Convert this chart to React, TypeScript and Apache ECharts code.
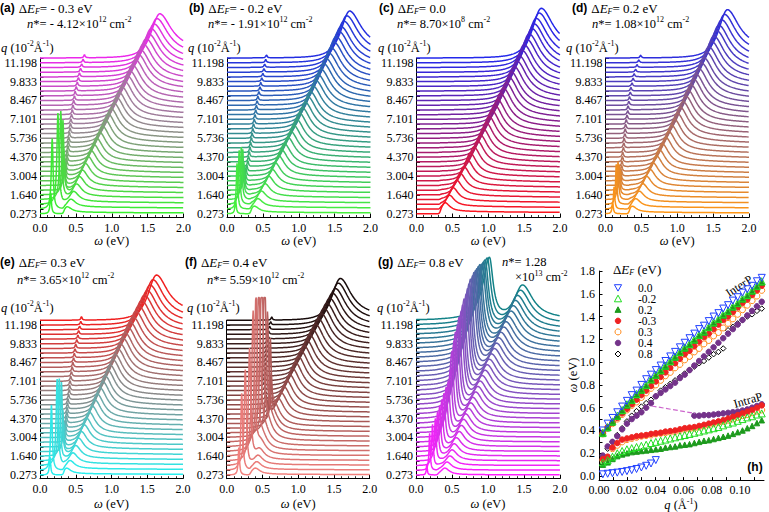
import React, { useEffect, useRef } from "react";
import * as echarts from "echarts";

const N = null;

// q values of the stacked curves (10^-2 Å^-1)
const qLines = [0.273, 0.614, 0.956, 1.297, 1.640, 1.980, 2.321, 2.663, 3.004, 3.346, 3.687, 4.028, 4.370, 4.711, 5.053, 5.394, 5.736, 6.077, 6.418, 6.760, 7.101, 7.443, 7.784, 8.125, 8.467, 8.808, 9.150, 9.491, 9.833, 10.174, 10.515, 10.857, 11.198, 11.540];
const qTickLabels = [0.273, 1.64, 3.004, 4.37, 5.736, 7.101, 8.467, 9.833, 11.198];

// panel (h) ticks
const hXLabels = [0, 0.02, 0.04, 0.06, 0.08, 0.1];
const hXTicks = [0, 0.01, 0.02, 0.03, 0.04, 0.05, 0.06, 0.07, 0.08, 0.09, 0.1, 0.11];
const hYLabels = [0, 0.2, 0.4, 0.6, 0.8, 1.0, 1.2, 1.4, 1.6, 1.8];
const hYTicks = [0, 0.1, 0.2, 0.3, 0.4, 0.5, 0.6, 0.7, 0.8, 0.9, 1.0, 1.1, 1.2, 1.3, 1.4, 1.5, 1.6, 1.7, 1.8];

// peak positions omega (eV), per doping, per q line
const interP_00 = [0.40, 0.46, 0.51, 0.56, 0.61, 0.66, 0.71, 0.75, 0.80, 0.85, 0.89, 0.93, 0.97, 1.01, 1.05, 1.09, 1.13, 1.17, 1.21, 1.25, 1.29, 1.32, 1.36, 1.40, 1.43, 1.47, 1.50, 1.54, 1.57, 1.61, 1.64, 1.67, 1.71, 1.74];
const intraP_00 = [0.015, 0.02, 0.025, 0.03, 0.036, 0.043, 0.052, 0.062, 0.075, 0.09, 0.11, 0.14, N, N, N, N, N, N, N, N, N, N, N, N, N, N, N, N, N, N, N, N, N, N];
const interP_m02 = [0.38, 0.43, 0.48, 0.53, 0.58, 0.63, 0.67, 0.72, 0.76, 0.80, 0.85, 0.89, 0.93, 0.97, 1.01, 1.05, 1.09, 1.13, 1.16, 1.20, 1.24, 1.27, 1.31, 1.35, 1.38, 1.42, 1.45, 1.49, 1.52, 1.56, 1.59, 1.63, 1.67, 1.71];
const intraP_m02 = [0.12, 0.14, 0.17, 0.20, 0.22, 0.235, 0.245, 0.255, 0.265, 0.275, 0.29, 0.30, 0.31, 0.32, 0.33, 0.34, 0.35, 0.36, 0.37, 0.38, 0.39, 0.40, 0.41, 0.42, 0.43, 0.445, 0.46, 0.47, 0.485, 0.50, 0.515, 0.525, 0.54, 0.55];
const interP_p02 = [0.37, 0.42, 0.47, 0.52, 0.57, 0.62, 0.66, 0.71, 0.75, 0.79, 0.84, 0.88, 0.92, 0.96, 1.00, 1.04, 1.08, 1.12, 1.15, 1.19, 1.23, 1.26, 1.30, 1.34, 1.37, 1.41, 1.44, 1.48, 1.51, 1.55, 1.58, 1.62, 1.66, 1.70];
const intraP_p02 = [0.10, 0.12, 0.15, 0.175, 0.19, 0.20, 0.21, 0.215, 0.22, 0.225, 0.23, 0.235, 0.24, 0.25, 0.255, 0.26, 0.27, 0.275, 0.28, 0.29, 0.30, 0.31, 0.315, 0.325, 0.335, 0.345, 0.355, 0.37, 0.385, 0.40, 0.42, 0.44, 0.465, 0.49];
const interP_m03 = [0.38, 0.43, 0.47, 0.51, 0.55, 0.59, 0.63, 0.67, 0.71, 0.75, 0.79, 0.83, 0.87, 0.91, 0.95, 0.99, 1.03, 1.07, 1.10, 1.14, 1.18, 1.22, 1.25, 1.29, 1.33, 1.37, 1.40, 1.44, 1.48, 1.52, 1.55, 1.59, 1.63, 1.67];
const intraP_m03 = [0.15, 0.17, 0.25, 0.29, 0.32, 0.33, 0.34, 0.35, 0.355, 0.36, 0.37, 0.375, 0.38, 0.39, 0.395, 0.40, 0.41, 0.42, 0.425, 0.43, 0.44, 0.45, 0.46, 0.47, 0.48, 0.49, 0.505, 0.52, 0.535, 0.55, 0.565, 0.58, 0.60, 0.62];
const interP_p03 = [0.37, 0.42, 0.46, 0.50, 0.54, 0.58, 0.62, 0.65, 0.69, 0.73, 0.77, 0.80, 0.84, 0.88, 0.91, 0.95, 0.98, 1.02, 1.05, 1.09, 1.12, 1.16, 1.19, 1.23, 1.26, 1.30, 1.34, 1.38, 1.42, 1.46, 1.50, 1.54, 1.58, 1.63];
const intraP_p03 = [0.14, 0.16, 0.24, 0.27, 0.30, 0.32, 0.33, 0.34, 0.35, 0.355, 0.36, 0.37, 0.375, 0.38, 0.385, 0.39, 0.40, 0.41, 0.415, 0.42, 0.43, 0.44, 0.45, 0.46, 0.47, 0.48, 0.49, 0.50, 0.515, 0.53, 0.54, 0.555, 0.57, 0.58];
const interP_p04 = [N, N, N, N, N, N, N, N, N, N, N, 0.70, 0.73, 0.76, 0.79, 0.82, 0.86, 0.89, 0.93, 0.97, 1.01, 1.05, 1.09, 1.13, 1.17, 1.21, 1.25, 1.29, 1.33, 1.37, 1.41, 1.45, 1.49, 1.53];
const intraP_p04 = [0.18, 0.26, 0.30, 0.35, 0.41, 0.46, 0.50, 0.53, 0.56, 0.60, 0.64, N, N, N, N, N, N, N, N, 0.53, 0.53, 0.535, 0.535, 0.54, 0.545, 0.55, 0.555, 0.56, 0.565, 0.575, 0.585, 0.60, 0.615, 0.63];
const peakP_p08 = [0.17, 0.24, 0.30, 0.36, 0.42, 0.48, 0.53, 0.57, 0.61, 0.64, 0.67, 0.70, 0.75, 0.78, 0.81, 0.84, 0.87, 0.90, 0.93, 0.96, 0.99, 1.01, 1.04, 1.07, 1.09, 1.12, 1.28, 1.31, 1.34, 1.37, 1.40, 1.42, 1.45, 1.47];
const dashedLink = [[0.0374, 0.615], [0.068, 0.55]];

// waterfall peak heights (in y units)
const interH_a = [0.5, 0.7, 0.9, 1.1, 1.3, 1.45, 1.6, 1.75, 1.85, 1.95, 2.05, 2.15, 2.25, 2.35, 2.45, 2.5, 2.55, 2.6, 2.65, 2.7, 2.75, 2.8, 2.85, 2.9, 2.95, 3.0, 3.0, 3.05, 3.1, 3.1, 3.15, 3.15, 3.2, 3.2];
const intraH_a = [1.5, 5.1, 6.6, 6.4, 5.4, 3.0, 1.8, 1.2, 0.9, 0.7, 0.6, 0.55, 0.5, 0.48, 0.46, 0.44, 0.42, 0.4, 0.38, 0.37, 0.36, 0.35, 0.34, 0.33, 0.32, 0.31, 0.3, 0.29, 0.28, 0.27, 0.26, 0.25, 0.24, 0.23];
const interH_b = [0.55, 0.75, 0.95, 1.15, 1.35, 1.5, 1.65, 1.8, 1.9, 2.0, 2.1, 2.2, 2.3, 2.4, 2.5, 2.55, 2.6, 2.65, 2.7, 2.75, 2.8, 2.9, 2.95, 3.0, 3.05, 3.1, 3.15, 3.2, 3.25, 3.3, 3.3, 3.35, 3.4, 3.4];
const intraH_b = [1.0, 3.3, 3.9, 3.8, 3.3, 2.0, 1.2, 0.8, 0.6, 0.5, 0.45, 0.43, 0.42, 0.41, 0.4, 0.39, 0.38, 0.37, 0.36, 0.35, 0.34, 0.33, 0.32, 0.31, 0.3, 0.29, 0.28, 0.27, 0.26, 0.25, 0.24, 0.23, 0.22, 0.21];
const interH_c = [0.8, 1.0, 1.2, 1.4, 1.55, 1.7, 1.85, 2.0, 2.1, 2.2, 2.3, 2.4, 2.5, 2.6, 2.7, 2.75, 2.8, 2.9, 2.95, 3.0, 3.05, 3.1, 3.15, 3.2, 3.25, 3.3, 3.35, 3.4, 3.45, 3.5, 3.5, 3.55, 3.6, 3.6];
const interH_d = [0.55, 0.75, 0.95, 1.15, 1.35, 1.5, 1.65, 1.8, 1.9, 2.0, 2.1, 2.2, 2.3, 2.4, 2.5, 2.6, 2.65, 2.7, 2.8, 2.85, 2.9, 2.95, 3.0, 3.05, 3.1, 3.15, 3.2, 3.25, 3.3, 3.35, 3.4, 3.45, 3.5, 3.5];
const intraH_d = [0.8, 1.6, 2.9, 2.75, 2.2, 1.6, 1.0, 0.7, 0.5, 0.45, 0.42, 0.4, 0.39, 0.38, 0.37, 0.36, 0.35, 0.34, 0.33, 0.32, 0.31, 0.3, 0.29, 0.28, 0.27, 0.26, 0.25, 0.24, 0.23, 0.22, 0.21, 0.2, 0.2, 0.2];
const interH_e = [0.5, 0.7, 0.9, 1.1, 1.3, 1.45, 1.6, 1.75, 1.85, 1.95, 2.05, 2.15, 2.25, 2.35, 2.45, 2.5, 2.55, 2.6, 2.65, 2.7, 2.75, 2.8, 2.85, 2.9, 2.95, 3.0, 3.05, 3.1, 3.15, 3.2, 3.2, 3.25, 3.3, 3.3];
const intraH_e = [1.3, 4.75, 6.3, 6.0, 5.4, 3.0, 1.8, 1.2, 0.9, 0.7, 0.6, 0.55, 0.5, 0.48, 0.46, 0.44, 0.42, 0.4, 0.38, 0.37, 0.36, 0.35, 0.34, 0.33, 0.32, 0.31, 0.3, 0.29, 0.28, 0.27, 0.26, 0.25, 0.25, 0.25];
const interW_f = [0.40, 0.42, 0.44, 0.46, 0.48, 0.50, 0.53, 0.57, 0.61, 0.64, 0.67, 0.72, 0.76, 0.80, 0.84, 0.88, 0.92, 0.96, 1.00, 1.04, 1.08, 1.12, 1.16, 1.20, 1.24, 1.28, 1.32, 1.36, 1.40, 1.44, 1.48, 1.52, 1.56, 1.59];
const interH_f = [0.5, 0.6, 0.7, 0.8, 0.9, 1.0, 1.1, 1.2, 1.35, 1.5, 1.65, 1.8, 1.9, 2.0, 2.1, 2.2, 2.3, 2.4, 2.5, 2.55, 2.6, 2.65, 2.7, 2.75, 2.8, 2.85, 2.9, 2.92, 2.95, 2.97, 3.0, 3.0, 3.05, 3.05];
const intraW_f = [0.17, 0.21, 0.26, 0.32, 0.37, 0.41, 0.45, 0.49, 0.53, 0.57, 0.61, 0.62, 0.60, 0.58, 0.565, 0.555, 0.545, 0.54, 0.535, 0.53, 0.53, 0.535, 0.535, 0.54, 0.545, 0.55, 0.555, 0.56, 0.565, 0.575, 0.585, 0.60, 0.615, 0.63];
const intraH_f = [2.0, 5.6, 7.0, 8.2, 10.4, 11.2, 12.0, 12.5, 11.5, 8.0, 5.5, 3.0, 1.5, 0.8, 0.5, 0.4, 0.35, 0.32, 0.3, 0.3, 0.3, 0.3, 0.3, 0.29, 0.28, 0.27, 0.26, 0.25, 0.25, 0.24, 0.24, 0.23, 0.22, 0.22];
const interW_g = [0.40, 0.43, 0.47, 0.50, 0.53, 0.56, 0.60, 0.63, 0.66, 0.69, 0.73, 0.76, 0.79, 0.83, 0.86, 0.89, 0.92, 0.96, 0.99, 1.02, 1.05, 1.09, 1.12, 1.15, 1.18, 1.22, 1.25, 1.28, 1.32, 1.35, 1.38, 1.41, 1.45, 1.48];
const interH_g = [0.5, 0.6, 0.7, 0.8, 0.9, 1.0, 1.1, 1.2, 1.3, 1.35, 1.4, 1.45, 1.5, 1.55, 1.6, 1.65, 1.7, 1.75, 1.8, 1.85, 1.9, 1.95, 2.0, 2.05, 2.1, 2.15, 2.2, 2.25, 2.3, 2.35, 2.4, 2.42, 2.46, 2.5];
const plasW_g = [0.15, 0.19, 0.23, 0.27, 0.30, 0.33, 0.36, 0.39, 0.42, 0.45, 0.48, 0.50, 0.53, 0.55, 0.58, 0.60, 0.63, 0.65, 0.67, 0.70, 0.72, 0.74, 0.76, 0.79, 0.81, 0.83, 0.85, 0.87, 0.89, 0.92, 0.94, 0.96, 0.99, 1.02];
const plasH_g = [0.8, 2.7, 3.0, 3.1, 3.2, 3.3, 3.4, 3.5, 3.6, 3.7, 4.2, 5.2, 5.6, 5.9, 6.1, 6.3, 6.4, 6.5, 6.6, 6.65, 6.7, 6.7, 6.7, 6.6, 6.5, 6.3, 6.1, 5.9, 5.7, 5.4, 5.2, 5.0, 4.8, 4.5];

const SERIF = "Liberation Serif";
const SANS = "Liberation Sans";

type Panel = {
  inter: number[]; interH: number[]; intra?: (number | null)[]; intraH?: number[];
  plasmon?: boolean; tail: number; onset: number; cap?: number;
  c0: number[]; c1: number[];
  letter: string; dE: string; nPre: string; nExp: string;
};

const panels: Panel[] = [
  { letter: "a", dE: "= - 0.3 eV", nPre: "*= - 4.12×10", nExp: "12", inter: interP_m03, interH: interH_a, intra: intraP_m03, intraH: intraH_a, tail: 0.24, onset: 0.33, c0: [55, 240, 45], c1: [235, 40, 235] },
  { letter: "b", dE: "= - 0.2 eV", nPre: "*= - 1.91×10", nExp: "12", inter: interP_m02, interH: interH_b, intra: intraP_m02, intraH: intraH_b, tail: 0.24, onset: 0.33, c0: [70, 240, 60], c1: [35, 45, 225] },
  { letter: "c", dE: "= 0.0", nPre: "*= 8.70×10", nExp: "8", inter: interP_00, interH: interH_c, tail: 0.24, onset: 0.33, c0: [252, 20, 30], c1: [35, 40, 235] },
  { letter: "d", dE: "= 0.2 eV", nPre: "*= 1.08×10", nExp: "12", inter: interP_p02, interH: interH_d, intra: intraP_p02, intraH: intraH_d, tail: 0.24, onset: 0.33, c0: [255, 150, 20], c1: [45, 45, 220] },
  { letter: "e", dE: "= 0.3 eV", nPre: "*= 3.65×10", nExp: "12", inter: interP_p03, interH: interH_e, intra: intraP_p03, intraH: intraH_e, tail: 0.2, onset: 0.33, c0: [40, 238, 238], c1: [240, 30, 30] },
  { letter: "f", dE: "= 0.4 eV", nPre: "*= 5.59×10", nExp: "12", inter: interW_f, interH: interH_f, intra: intraW_f, intraH: intraH_f, tail: 0.12, onset: 0.33, cap: 13.2, c0: [242, 128, 125], c1: [22, 10, 10] },
  { letter: "g", dE: "= 0.8 eV", nPre: "", nExp: "", inter: interW_g, interH: interH_g, intra: plasW_g, intraH: plasH_g, plasmon: true, tail: 0.04, onset: 0.3, c0: [255, 30, 255], c1: [18, 130, 135] },
];

const layouts = [
  { left: 40, top: 58, w: 143.5, h: 159.5, tx: 0, nx: 27, qx: 1, row: 0 },
  { left: 227, top: 58, w: 143.5, h: 159.5, tx: 189, nx: 208, qx: 188, row: 0 },
  { left: 416.5, top: 58, w: 143.5, h: 159.5, tx: 379, nx: 397, qx: 378, row: 0 },
  { left: 605.5, top: 58, w: 143.5, h: 159.5, tx: 572, nx: 592, qx: 566, row: 0 },
  { left: 40, top: 320.3, w: 143, h: 158.4, tx: 0, nx: 17, qx: 1, row: 1 },
  { left: 226.7, top: 320.3, w: 143, h: 158.4, tx: 185, nx: 207, qx: 187, row: 1 },
  { left: 416, top: 320.3, w: 144, h: 158.4, tx: 378, nx: 502, qx: 377, row: 1 },
];
const rowY = [
  { title: 8, n: 24, q: 48, x: 241 },
  { title: 262, n: 280, q: 308, x: 504 },
];

const hSeries = [
  { name: "0.8", inter: peakP_p08, intra: null, symbol: "diamond", size: 5.5, rot: 0, fill: "rgba(255,255,255,0)", stroke: "#000000" },
  { name: "0.4", inter: interP_p04, intra: intraP_p04, symbol: "circle", size: 5.5, rot: 0, fill: "#74338a", stroke: "#74338a" },
  { name: "0.3", inter: interP_p03, intra: intraP_p03, symbol: "circle", size: 6, rot: 0, fill: "rgba(255,255,255,0)", stroke: "#ff8a1a" },
  { name: "-0.3", inter: interP_m03, intra: intraP_m03, symbol: "circle", size: 5.5, rot: 0, fill: "#ee2222", stroke: "#ee2222" },
  { name: "0.2", inter: interP_p02, intra: intraP_p02, symbol: "triangle", size: 5.5, rot: 0, fill: "#1c9a1c", stroke: "#1c9a1c" },
  { name: "-0.2", inter: interP_m02, intra: intraP_m02, symbol: "triangle", size: 7, rot: 0, fill: "rgba(255,255,255,0)", stroke: "#22dd22" },
  { name: "0.0", inter: interP_00, intra: intraP_00, symbol: "triangle", size: 7, rot: 180, fill: "rgba(255,255,255,0)", stroke: "#2040ff" },
];

type Tok = { t?: string; s?: number; i?: boolean; b?: boolean; sans?: boolean; dy?: number; gap?: number };
let measureCtx: CanvasRenderingContext2D | null = null;
function fontOf(tk: Tok) {
  return `${tk.i ? "italic " : ""}${tk.b ? "bold " : ""}${tk.s ?? 12.5}px "${tk.sans ? SANS : SERIF}"`;
}
function textRun(x: number, y: number, toks: Tok[], center = false, rotation = 0) {
  if (!measureCtx) measureCtx = document.createElement("canvas").getContext("2d");
  let cx = 0;
  const children: any[] = [];
  for (const tk of toks) {
    if (tk.gap) { cx += tk.gap; continue; }
    measureCtx!.font = fontOf(tk);
    const w = measureCtx!.measureText(tk.t || "").width;
    children.push({
      type: "text", x: cx, y: tk.dy ?? 0, silent: true,
      style: {
        text: tk.t, fontSize: tk.s ?? 12.5, fontFamily: tk.sans ? SANS : SERIF,
        fontStyle: tk.i ? "italic" : "normal", fontWeight: tk.b ? "bold" : "normal",
        fill: "#000", textAlign: "left", textVerticalAlign: "middle",
      },
    });
    cx += w;
  }
  if (center) children.forEach((c) => (c.x -= cx / 2));
  return { type: "group", x, y, rotation, children };
}
const SUP = { s: 8, dy: -4.5 };
const SUB = { s: 8, dy: 3.5 };

function lerp(c0: number[], c1: number[], t: number) {
  const r = Math.round(c0[0] + (c1[0] - c0[0]) * t);
  const g = Math.round(c0[1] + (c1[1] - c0[1]) * t);
  const b = Math.round(c0[2] + (c1[2] - c0[2]) * t);
  return `rgb(${r},${g},${b})`;
}

function buildCurve(p: Panel, k: number) {
  const base = qLines[k];
  const wi = p.inter[k];
  const hi = p.interH[k];
  const wa = p.intra ? p.intra[k] : null;
  const ha = p.intraH ? p.intraH[k] : 0;
  const gaL = p.plasmon ? 0.008 + 0.003 * k : Math.max(0.011, 0.007 + 0.0015 * ha);
  const gaR = p.plasmon ? 0.008 + 0.0016 * k : gaL;
  const xs: number[] = [];
  for (let i = 0; i <= 400; i++) xs.push(i * 0.005);
  if (wa != null && ha > 0) {
    const gm = Math.min(gaL, gaR);
    for (let j = -24; j <= 24; j++) {
      const x = wa + (j * gm) / 4;
      if (x > 0 && x < 2) xs.push(x);
    }
  }
  xs.sort((a, b) => a - b);
  const gl = 0.05 + 0.08 * wi;
  const gr = 0.04 + 0.09 * wi;
  return xs.map((w) => {
    const d = w - wi;
    let g = d < 0 ? Math.pow(1 + (d / gl) ** 2, -1.5) : p.tail / (1 + 0.6 * d) + (1 - p.tail) / (1 + (d / gr) ** 2);
    g *= 1 / (1 + Math.exp(-(w - p.onset) / 0.008));
    let y = hi * g;
    if (wa != null && ha > 0) {
      const da = w - wa;
      const ga = da < 0 ? gaL : gaR;
      y += ha / (1 + (da / ga) ** 2);
    }
    let v = base + y;
    if (p.cap && w < 0.8) v = Math.min(v, p.cap);
    return [w, v];
  });
}

function buildOption() {
  const axisLineStyle = { color: "#000", width: 1 };
  const labelStyle = { color: "#000", fontFamily: SERIF, fontSize: 12 };
  const grid: any[] = [];
  const xAxis: any[] = [];
  const yAxis: any[] = [];
  const series: any[] = [];
  const graphic: any[] = [];

  layouts.forEach((L, i) => {
    grid.push({ left: L.left, top: L.top, width: L.w, height: L.h });
    xAxis.push({
      type: "value", gridIndex: i, min: 0, max: 2, interval: 0.5,
      axisLine: { show: true, onZero: false, lineStyle: axisLineStyle },
      axisTick: { show: true, inside: true, length: 4, lineStyle: axisLineStyle },
      minorTick: { show: true, splitNumber: 5, length: 2.5, lineStyle: { color: "#000", width: 0.8 } },
      axisLabel: { show: true, margin: 4, formatter: (v: number) => v.toFixed(1), ...labelStyle },
      splitLine: { show: false }, minorSplitLine: { show: false },
    });
    yAxis.push({
      type: "value", gridIndex: i, min: 0, max: 11.54,
      axisLine: { show: true, onZero: false, lineStyle: axisLineStyle },
      axisTick: { show: true, inside: true, length: 3.5, customValues: qLines, lineStyle: axisLineStyle },
      axisLabel: { show: true, margin: 3, customValues: qTickLabels, formatter: (v: number) => v.toFixed(3), ...labelStyle },
      splitLine: { show: false },
    });
    const p = panels[i];
    for (let k = qLines.length - 1; k >= 0; k--) {
      series.push({
        type: "line", xAxisIndex: i, yAxisIndex: i, data: buildCurve(p, k),
        showSymbol: false, symbol: "none", silent: true, clip: false,
        lineStyle: { color: lerp(p.c0, p.c1, k / (qLines.length - 1)), width: 1.5 },
      });
    }
    const R = rowY[L.row];
    graphic.push(textRun(L.tx, R.title, [
      { t: `(${p.letter})`, s: 12, b: true, sans: true }, { gap: 4 },
      { t: "Δ", s: 13 }, { t: "E", i: true, s: 13 }, { t: "F", i: true, ...SUB }, { t: p.dE, s: 13 },
    ]));
    if (p.letter !== "g") {
      graphic.push(textRun(L.nx, R.n, [
        { t: "n", i: true }, { t: p.nPre }, { t: p.nExp, ...SUP }, { t: " cm" }, { t: "-2", ...SUP },
      ]));
    } else {
      graphic.push(textRun(L.nx, R.title, [{ t: "n", i: true }, { t: "*= 1.28" }]));
      graphic.push(textRun(L.nx + 13, R.title + 15, [{ t: "×10" }, { t: "13", s: 8, dy: -4 }, { t: " cm" }, { t: "-2", s: 8, dy: -4 }]));
    }
    graphic.push(textRun(L.qx, R.q, [
      { t: "q", i: true }, { t: " (10" }, { t: "-2", ...SUP }, { t: "Å" }, { t: "-1", ...SUP }, { t: ")" },
    ]));
    graphic.push(textRun(L.left + L.w / 2, R.x, [{ t: "ω", i: true }, { t: " (eV)" }], true));
  });

  // panel (h)
  const hi = 7;
  grid.push({ left: 599, top: 271, width: 165, height: 209.6 });
  xAxis.push({
    type: "value", gridIndex: hi, min: 0, max: 0.117,
    axisLine: { show: true, onZero: false, lineStyle: axisLineStyle },
    axisTick: { show: true, inside: true, length: 3.5, customValues: hXTicks, lineStyle: axisLineStyle },
    axisLabel: { show: true, margin: 3, customValues: hXLabels, formatter: (v: number) => v.toFixed(2), ...labelStyle },
    splitLine: { show: false },
  });
  yAxis.push({
    type: "value", gridIndex: hi, min: -0.04, max: 1.8,
    axisLine: { show: true, onZero: false, lineStyle: axisLineStyle },
    axisTick: { show: true, inside: true, length: 3.5, customValues: hYTicks, lineStyle: axisLineStyle },
    axisLabel: { show: true, margin: 4, customValues: hYLabels, formatter: (v: number) => v.toFixed(1), ...labelStyle },
    splitLine: { show: false },
  });
  series.push({
    type: "line", xAxisIndex: hi, yAxisIndex: hi, data: dashedLink, symbol: "none", silent: true,
    lineStyle: { color: "#cc66cc", type: "dashed", width: 1.2 },
  });
  hSeries.forEach((s) => {
    const data: number[][] = [];
    qLines.forEach((q, k) => {
      const a = s.inter[k];
      if (a != null) data.push([q / 100, a]);
      if (s.intra) {
        const b = s.intra[k];
        if (b != null) data.push([q / 100, b]);
      }
    });
    series.push({
      type: "scatter", name: s.name, xAxisIndex: hi, yAxisIndex: hi, data, silent: true,
      symbol: s.symbol, symbolSize: s.size, symbolRotate: s.rot,
      itemStyle: { color: s.fill, borderColor: s.stroke, borderWidth: 1, opacity: 1 },
    });
  });

  // (h) legend (manual)
  graphic.push(textRun(613, 269, [{ t: "Δ", s: 13 }, { t: "E", i: true, s: 13 }, { t: "F", i: true, ...SUB }, { t: " (eV)", s: 13 }]));
  const legendOrder = ["0.0", "-0.2", "0.2", "-0.3", "0.3", "0.4", "0.8"];
  legendOrder.forEach((name, idx) => {
    const y = 287.7 + idx * 11.05;
    const s = hSeries.find((h) => h.name === name)!;
    const mx = 618;
    let shape: any;
    if (s.symbol === "triangle" && s.rot === 180) {
      shape = { type: "polygon", shape: { points: [[mx - 3.6, y - 3], [mx + 3.6, y - 3], [mx, y + 3.4]] } };
    } else if (s.symbol === "triangle") {
      const r = s.size > 6 ? 3.6 : 3;
      shape = { type: "polygon", shape: { points: [[mx - r, y + r * 0.85], [mx + r, y + r * 0.85], [mx, y - r]] } };
    } else if (s.symbol === "circle") {
      shape = { type: "circle", shape: { cx: mx, cy: y, r: s.size / 2 } };
    } else {
      shape = { type: "polygon", shape: { points: [[mx, y - 3], [mx + 3, y], [mx, y + 3], [mx - 3, y]] } };
    }
    shape.silent = true;
    shape.style = { fill: s.fill, stroke: s.stroke, lineWidth: 1 };
    graphic.push(shape);
    graphic.push(textRun(638, y, [{ t: name, s: 11.5 }]));
  });
  graphic.push(textRun(573, 375, [{ t: "ω", i: true }, { t: " (eV)" }], true, Math.PI / 2));
  graphic.push(textRun(681, 505, [{ t: "q", i: true }, { t: " (Å" }, { t: "-1", s: 8, dy: -4 }, { t: ")" }], true));
  graphic.push(textRun(739, 286, [{ t: "InterP", s: 12 }], true, (33 * Math.PI) / 180));
  graphic.push(textRun(748, 400, [{ t: "IntraP", s: 12 }], true, (16 * Math.PI) / 180));
  graphic.push(textRun(755, 467, [{ t: "(h)", s: 12, b: true, sans: true }], true));

  return { animation: false, backgroundColor: "#fff", textStyle: { fontFamily: SERIF }, grid, xAxis, yAxis, series, graphic };
}

export default function App() {
  const ref = useRef<HTMLDivElement>(null);
  useEffect(() => {
    document.body.style.margin = "0";
    if (!ref.current) return;
    const chart = echarts.init(ref.current, null, { renderer: "svg", width: 769, height: 512 });
    chart.setOption(buildOption() as any);
    return () => chart.dispose();
  }, []);
  return <div ref={ref} style={{ width: 769, height: 512 }} />;
}
